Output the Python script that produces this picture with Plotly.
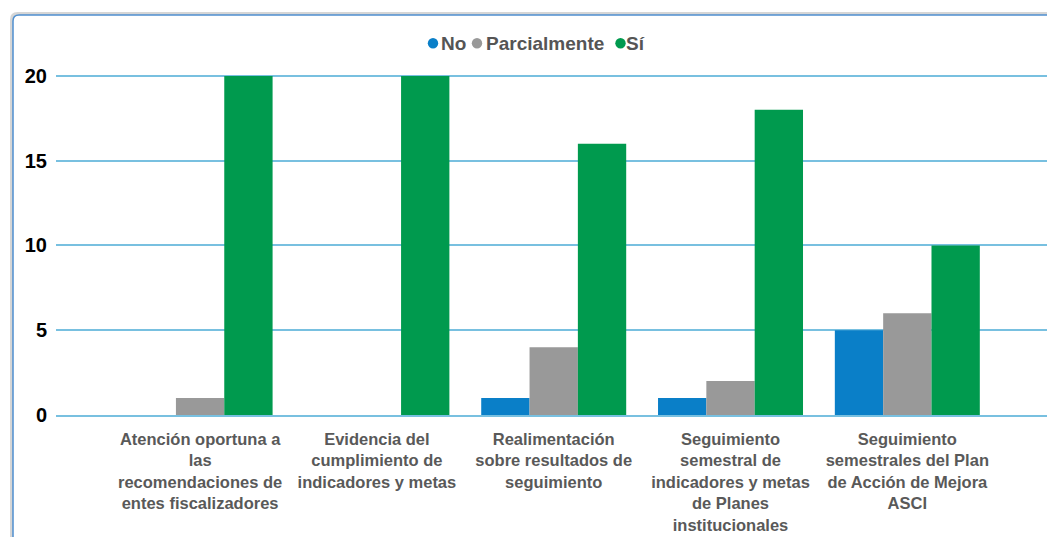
import plotly.graph_objects as go

categories = [
    "Atención oportuna a<br>las<br>recomendaciones de<br>entes fiscalizadores",
    "Evidencia del<br>cumplimiento de<br>indicadores y metas",
    "Realimentación<br>sobre resultados de<br>seguimiento",
    "Seguimiento<br>semestral de<br>indicadores y metas<br>de Planes<br>institucionales",
    "Seguimiento<br>semestrales del Plan<br>de Acción de Mejora<br>ASCI",
]
series_names = ["No", "Parcialmente", "Sí"]
no_values = [0, 0, 1, 1, 5]
parcial_values = [1, 0, 4, 2, 6]
si_values = [20, 20, 16, 18, 10]
y_ticks = [0, 5, 10, 15, 20]

colors = ["#0a7fc8", "#999999", "#009a4e"]

W_PX, H_PX = 1047, 537
L, R, T, B = 56, 0, 59, 537 - 415
PW = W_PX - L - R
PH = H_PX - T - B


def px2x(px):
    return (px - L) / PW


def py2y(py):
    return (H_PX - B - py) / PH


fig = go.Figure()
for name, vals, col in zip(series_names, [no_values, parcial_values, si_values], colors):
    fig.add_trace(go.Bar(
        name=name, x=categories, y=vals,
        marker=dict(color=col, line=dict(width=0)),
        showlegend=False,
    ))


def frame_path(off):
    x0 = px2x(13 - off)
    ytop = py2y(15 - off)
    return (f"M {x0} {py2y(560)} L {x0} {py2y(21 - off)} "
            f"Q {x0} {ytop} {px2x(19 - off)} {ytop} L {px2x(1060)} {ytop}")


shapes = [
    dict(type="path", xref="paper", yref="paper", path=frame_path(1.5),
         line=dict(color="#d6d6d6", width=3), layer="below"),
    dict(type="path", xref="paper", yref="paper", path=frame_path(0),
         line=dict(color="#4f8fcf", width=1.5), layer="below"),
]

legend_dots = [433, 477, 620.5]
legend_text_x = [440, 485, 625]
annotations = []
for name, col, dx, tx in zip(series_names, colors, legend_dots, legend_text_x):
    r = 5.2
    shapes.append(dict(type="circle", xref="paper", yref="paper",
                       x0=px2x(dx - r), x1=px2x(dx + r),
                       y0=py2y(43.3 + r), y1=py2y(43.3 - r),
                       fillcolor=col, line=dict(width=0)))
    annotations.append(dict(xref="paper", yref="paper", x=px2x(tx), y=py2y(43.5),
                            xanchor="left", yanchor="middle", showarrow=False,
                            text=f"<b>{name}</b>", borderpad=0,
                            font=dict(family="Liberation Sans, Arial", size=19, color="#555555")))

fig.update_layout(
    width=W_PX, height=H_PX,
    margin=dict(l=L, r=R, t=T, b=B, pad=0),
    paper_bgcolor="white", plot_bgcolor="white",
    barmode="group", bargap=0.18, bargroupgap=0,
    showlegend=False,
    shapes=shapes, annotations=annotations,
    font=dict(family="Liberation Sans, Arial", color="#595959"),
    xaxis=dict(
        range=[-0.815, 4.79],
        showgrid=False, showline=True, linecolor="#78c0e0", linewidth=2,
        ticks="", tickfont=dict(size=16.5, color="#595959", family="Liberation Sans, Arial", weight="bold"),
        ticklabelstandoff=8,
        fixedrange=True,
    ),
    yaxis=dict(
        range=[0, 21], tickvals=y_ticks,
        showgrid=True, gridcolor="#78c0e0", gridwidth=2,
        zeroline=False, showline=False, ticks="",
        tickfont=dict(size=20, color="#000000", family="Liberation Sans, Arial", weight="bold"),
        ticklabelstandoff=8,
    ),
)

fig.write_html(
    "out.html",
    config={"displayModeBar": False},
    post_script="document.body.style.margin='0';document.body.style.overflow='hidden';",
)
